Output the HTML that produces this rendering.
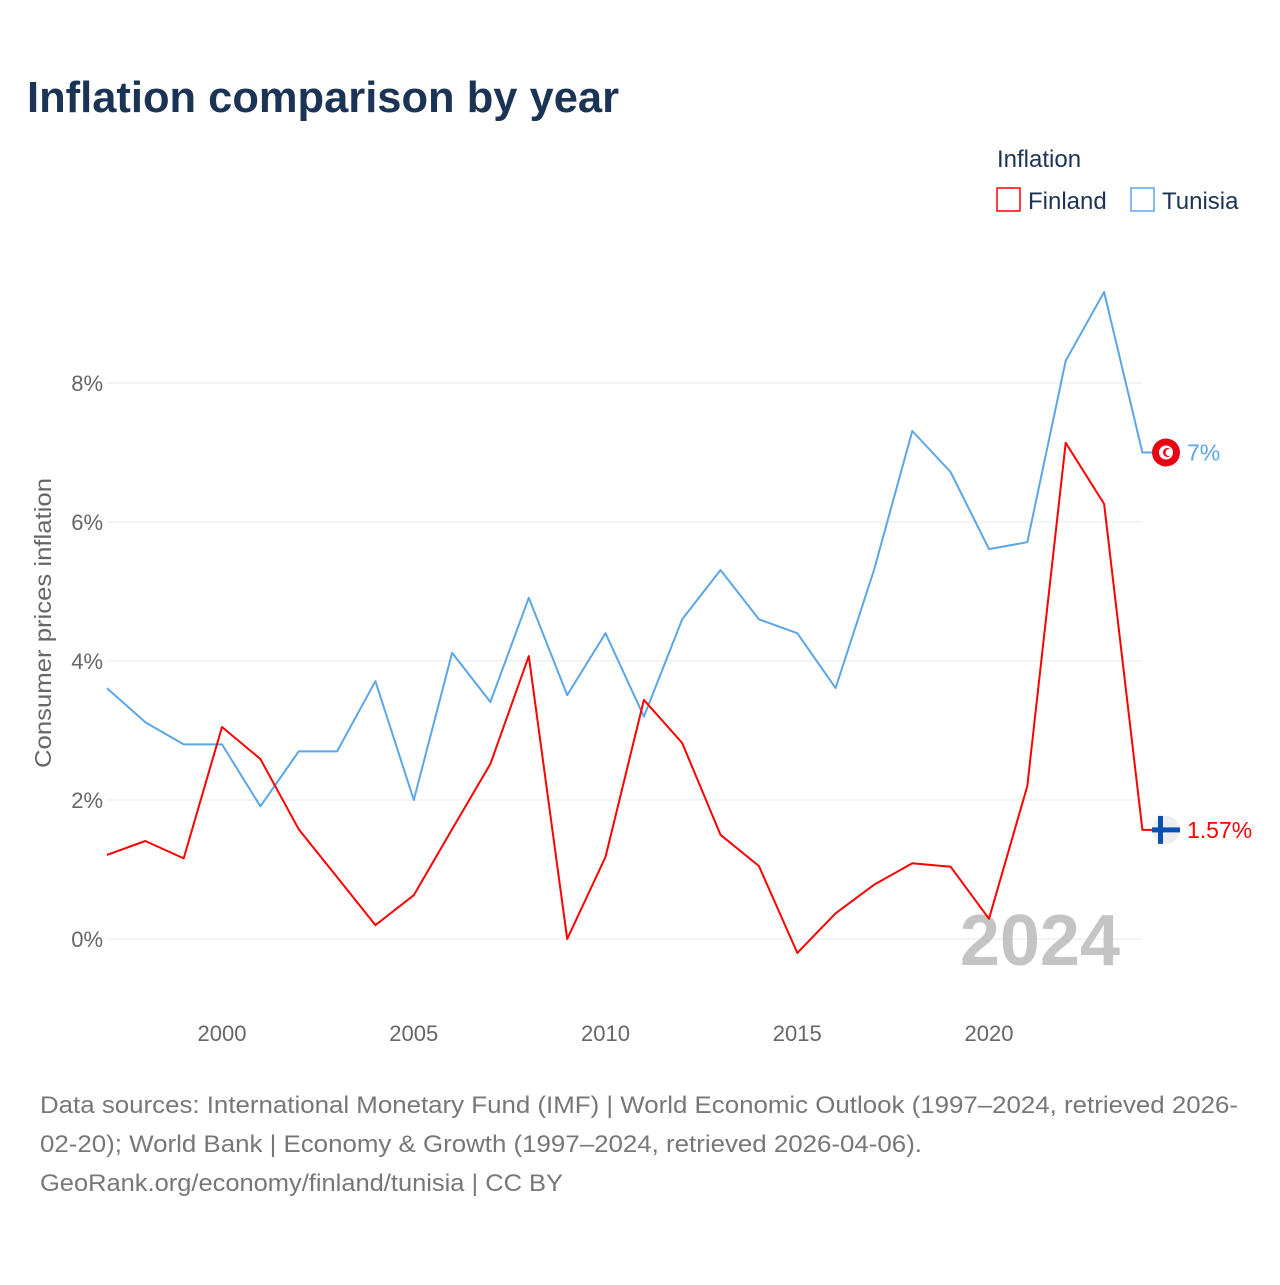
<!DOCTYPE html>
<html><head><meta charset="utf-8">
<style>
body{margin:0;background:#fff;font-family:"Liberation Sans",sans-serif;}
svg text{font-family:"Liberation Sans",sans-serif;}
</style></head>
<body>
<svg id="chart" width="1280" height="1280" viewBox="0 0 1280 1280">
<text x="27" y="112" font-size="44" font-weight="bold" fill="#1b3355" textLength="592" lengthAdjust="spacingAndGlyphs">Inflation comparison by year</text>
<g>
<text x="997" y="167" font-size="24" fill="#1b3355">Inflation</text>
<g><rect x="997" y="188" width="23" height="23" fill="none" stroke="#ff0000" stroke-width="1.5"/><text x="1028" y="209" font-size="24" fill="#1b3355">Finland</text></g>
<g><rect x="1131" y="188" width="23" height="23" fill="none" stroke="#5aa6e8" stroke-width="1.5"/><text x="1162" y="209" font-size="24" fill="#1b3355">Tunisia</text></g>
</g>
<g id="grid"></g>
<g id="yticks"></g>
<g id="xticks"></g>
<text transform="translate(51,623) rotate(-90)" text-anchor="middle" font-size="23" fill="#666" textLength="290" lengthAdjust="spacingAndGlyphs">Consumer prices inflation</text>
<text x="1120" y="965" text-anchor="end" font-size="72" font-weight="bold" fill="#c4c4c4">2024</text>
<g id="series"></g>
<g font-size="24" fill="#777">
<text x="40" y="1113" textLength="1198" lengthAdjust="spacingAndGlyphs">Data sources: International Monetary Fund (IMF) | World Economic Outlook (1997–2024, retrieved 2026-</text>
<text x="40" y="1152" textLength="882" lengthAdjust="spacingAndGlyphs">02-20); World Bank | Economy &amp; Growth (1997–2024, retrieved 2026-04-06).</text>
<text x="40" y="1191" textLength="523" lengthAdjust="spacingAndGlyphs">GeoRank.org/economy/finland/tunisia | CC BY</text>
</g>
</svg>
<script>
const years=[1997,1998,1999,2000,2001,2002,2003,2004,2005,2006,2007,2008,2009,2010,2011,2012,2013,2014,2015,2016,2017,2018,2019,2020,2021,2022,2023,2024];
const tunisia=[3.61,3.12,2.8,2.8,1.91,2.7,2.7,3.71,2.0,4.12,3.41,4.91,3.51,4.4,3.2,4.6,5.31,4.6,4.4,3.61,5.31,7.31,6.72,5.61,5.71,8.32,9.31,7.0];
const finland=[1.21,1.41,1.16,3.05,2.59,1.58,0.89,0.2,0.63,1.58,2.52,4.07,0.0,1.18,3.44,2.82,1.5,1.05,-0.2,0.37,0.78,1.09,1.04,0.29,2.2,7.14,6.26,1.57];
const yTicks=[0,2,4,6,8];
const xTicks=[2000,2005,2010,2015,2020];
const NS="http://www.w3.org/2000/svg";
const x=v=>222+(v-2000)*38.35;
const y=v=>939-v*69.5;
function mk(tag,attrs,parent){const e=document.createElementNS(NS,tag);for(const k in attrs)e.setAttribute(k,attrs[k]);parent.appendChild(e);return e;}
const grid=document.getElementById('grid'),yt=document.getElementById('yticks'),xt=document.getElementById('xticks'),ser=document.getElementById('series');
yTicks.forEach(t=>{
 const l=mk('line',{x1:107,x2:1142,y1:y(t),y2:y(t),stroke:'#e8e8e8','stroke-width':1},grid);
 
 
 const tx=mk('text',{x:103,y:y(t)+8,'text-anchor':'end','font-size':22,fill:'#666'},yt);
 tx.textContent=t+'%';
 
 
});
xTicks.forEach(t=>{
 const tx=mk('text',{x:x(t),y:1041,'text-anchor':'middle','font-size':22,fill:'#666'},xt);
 tx.textContent=t;
 
 
});
function line(vals,color,name,label){
 let d=vals.map((v,i)=>(i?'L':'M')+x(years[i]).toFixed(1)+','+y(v).toFixed(1)).join(' ');
 const last=vals[vals.length-1];
 d+=' L1152,'+y(last).toFixed(1);
 const p=mk('path',{d:d,fill:'none',stroke:color,'stroke-width':2,'stroke-linejoin':'round'},ser);
 
 
 const t=mk('text',{x:1187,y:y(last)+8,'font-size':23,fill:color},ser);
 t.textContent=label;
 
 
 return y(last);
}
const ty=line(tunisia,'#5aa6e8','tunisia','7%');
const fy=line(finland,'#ff0000','finland','1.57%');
const tf=mk('g',{},ser);


mk('circle',{cx:1166,cy:ty,r:14,fill:'#e70013'},tf);
mk('circle',{cx:1166,cy:ty,r:7,fill:'#fff'},tf);
mk('circle',{cx:1167.5,cy:ty,r:4.5,fill:'#e70013'},tf);
mk('circle',{cx:1169,cy:ty,r:3.5,fill:'#fff'},tf);
const ff=mk('g',{},ser);


mk('circle',{cx:1166,cy:fy,r:14,fill:'#eee'},ff);
mk('rect',{x:1152,y:fy-2.5,width:28,height:5,fill:'#0b4fb0'},ff);
mk('rect',{x:1158,y:fy-14,width:5,height:28,fill:'#0b4fb0'},ff);
</script>
</body></html>
